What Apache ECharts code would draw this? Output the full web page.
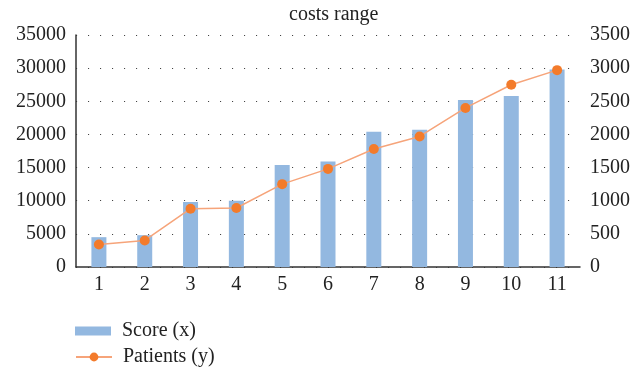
<!DOCTYPE html>
<html>
<head>
<meta charset="utf-8">
<script src="https://cdn.jsdelivr.net/npm/echarts@6/dist/echarts.min.js"></script>
<style>
  html, body { margin: 0; padding: 0; background: #fff; }
  #chart { width: 640px; height: 368px; }
</style>
</head>
<body>
<div id="chart"></div>
<script>
// Chart data
const categories = ['1', '2', '3', '4', '5', '6', '7', '8', '9', '10', '11'];
const scoreValues = [4500, 4800, 9800, 10000, 15400, 15900, 20400, 20700, 25200, 25800, 29800];
const patientValues = [340, 400, 880, 890, 1250, 1480, 1780, 1970, 2400, 2750, 2970];
const leftTicks = { min: 0, max: 35000, interval: 5000 };
const rightTicks = { min: 0, max: 3500, interval: 500 };

const FONT = '"Liberation Serif", "DejaVu Serif", serif';
const TEXT = '#222';
const SIZE = 20;

const plain = v => String(v);

const legendText = { fontFamily: FONT, fontSize: SIZE, color: TEXT, padding: [0, 0, 0, 6] };

const chart = echarts.init(document.getElementById('chart'), null, { renderer: 'canvas' });

chart.setOption({
  animation: false,
  backgroundColor: '#fff',
  textStyle: { fontFamily: FONT, color: TEXT },
  title: {
    text: 'costs range',
    left: 284,
    top: 0,
    textStyle: { fontFamily: FONT, fontSize: SIZE, fontWeight: 'normal', color: TEXT }
  },
  legend: [
    {
      left: 70,
      top: 316,
      itemWidth: 36,
      itemHeight: 9,
      textStyle: legendText,
      data: [{ name: 'Score (x)', icon: 'rect' }]
    },
    {
      left: 70,
      top: 342,
      itemWidth: 36,
      itemHeight: 11,
      textStyle: legendText,
      data: [{ name: 'Patients (y)' }]
    }
  ],
  grid: { left: 76, right: 60, top: 35, bottom: 101, containLabel: false },
  xAxis: {
    type: 'category',
    data: categories,
    axisLine: { show: true, lineStyle: { color: '#333', width: 1.5 } },
    axisTick: { show: false },
    axisLabel: { fontFamily: FONT, fontSize: SIZE, color: TEXT, margin: 8 }
  },
  yAxis: [
    {
      type: 'value',
      min: leftTicks.min,
      max: leftTicks.max,
      interval: leftTicks.interval,
      axisLine: { show: true, lineStyle: { color: '#333', width: 1.5 } },
      axisTick: { show: false },
      axisLabel: { fontFamily: FONT, fontSize: SIZE, color: TEXT, margin: 10, formatter: plain },
      splitLine: { show: true, lineStyle: { color: '#444', width: 1.1, type: [1.1, 10.9] } }
    },
    {
      type: 'value',
      min: rightTicks.min,
      max: rightTicks.max,
      interval: rightTicks.interval,
      position: 'right',
      axisLine: { show: false },
      axisTick: { show: false },
      axisLabel: { fontFamily: FONT, fontSize: SIZE, color: TEXT, margin: 10, formatter: plain },
      splitLine: { show: false }
    }
  ],
  series: [
    {
      name: 'Score (x)',
      type: 'bar',
      yAxisIndex: 0,
      data: scoreValues,
      barWidth: 15,
      itemStyle: { color: '#93B8E0' }
    },
    {
      name: 'Patients (y)',
      type: 'line',
      yAxisIndex: 1,
      data: patientValues,
      symbol: 'circle',
      symbolSize: 10,
      lineStyle: { color: '#F6A47A', width: 1.5 },
      itemStyle: { color: '#F37B2B' }
    }
  ]
});
</script>
</body>
</html>
